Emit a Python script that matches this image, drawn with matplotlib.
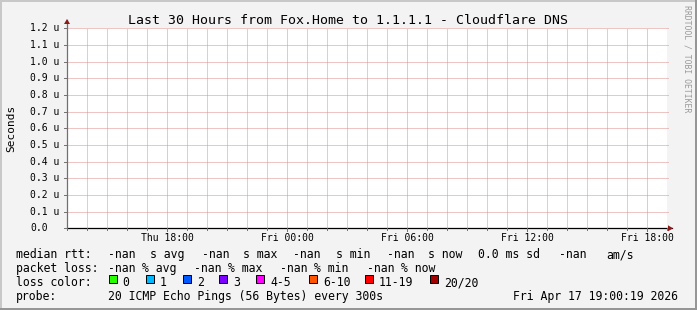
import matplotlib
matplotlib.use("Agg")
import matplotlib.pyplot as plt
from matplotlib.patches import Rectangle, Polygon
from matplotlib.lines import Line2D

plt.rcParams['font.family'] = ['DejaVu Sans Mono']

W, H = 697, 310

# chart texts and values
title = "Last 30 Hours from Fox.Home to 1.1.1.1 - Cloudflare DNS"
y_label = "Seconds"
hours_span = 30                      # Thu 13:00 -> Fri 19:00
x_tick_hours = [5, 11, 17, 23, 29]
x_tick_labels = ["Thu 18:00", "Fri 00:00", "Fri 06:00", "Fri 12:00", "Fri 18:00"]
y_ticks = [0.0, 0.1, 0.2, 0.3, 0.4, 0.5, 0.6, 0.7, 0.8, 0.9, 1.0, 1.1, 1.2]
y_tick_labels = ["0.0"] + ["%.1f u" % v for v in y_ticks[1:]]

rtt_values = ["-nan", "-nan", "-nan", "-nan"]
rtt_names = ["s avg", "s max", "s min", "s now"]
rtt_sd = "0.0 ms sd"
rtt_am = "-nan"
loss_values = ["-nan", "-nan", "-nan", "-nan"]
loss_names = ["% avg", "% max", "% min", "% now"]
loss_labels = ["0", "1", "2", "3", "4-5", "6-10", "11-19", "20/20"]
loss_colors = ["#26ff00", "#00b8ff", "#0059ff", "#7e00ff",
               "#ff00ff", "#ff5500", "#ff0000", "#a00000"]
probe_text = "20 ICMP Echo Pings (56 Bytes) every 300s"
stamp = "Fri Apr 17 19:00:19 2026"


def fx(x):
    return x / W


def fy(y):
    return 1 - y / H


fig = plt.figure(figsize=(W / 100, H / 100), dpi=100, facecolor="#f3f3f3")

# 3d-ish border
fig.add_artist(Rectangle((0, fy(2)), 1, 2 / H, transform=fig.transFigure, color="#c8c8c8", lw=0))
fig.add_artist(Rectangle((0, 0), 2 / W, 1, transform=fig.transFigure, color="#c8c8c8", lw=0))
fig.add_artist(Rectangle((0, 0), 1, 2 / H, transform=fig.transFigure, color="#969696", lw=0))
fig.add_artist(Rectangle((fx(W - 2), 0), 2 / W, 1, transform=fig.transFigure, color="#969696", lw=0))

x0, x1, ytop, ybot = 67, 667, 28.3, 228.3
ax = fig.add_axes([fx(x0), fy(ybot), (x1 - x0) / W, (ybot - ytop) / H])
ax.set_facecolor("white")
ax.set_xlim(0, hours_span)
ax.set_ylim(y_ticks[0], y_ticks[-1])
for s in ax.spines.values():
    s.set_visible(False)
ax.set_xticks([])
ax.set_yticks([])

# grid: hourly minor, 6-hourly major, every 0.1 u horizontal
dot = (0, (1, 1))
for h in range(1, hours_span + 1):
    major = h in x_tick_hours
    ax.axvline(h, color="#dc8c8c" if major else "#a8a8a8", lw=0.72, ls=dot, zorder=1)
for v in y_ticks[1:]:
    ax.plot([0, hours_span + 0.05], [v, v], color="#dc8c8c", lw=0.72, ls=dot,
            clip_on=False, zorder=1)

# axes lines
ax.plot([0, hours_span + 0.25], [0, 0], color="black", lw=0.9, clip_on=False, zorder=3)
ax.plot([0, 0], [0, y_ticks[-1] + 0.05], color="#707070", lw=0.9, clip_on=False, zorder=3)

# ticks on axes
for v in y_ticks:
    fig.add_artist(Line2D([fx(x0 - 3), fx(x0)], [fy(ybot - v / 1.2 * 200)] * 2,
                          transform=fig.transFigure, color="#707070", lw=0.7))
for h in range(0, hours_span + 1):
    xp = x0 + h * 20
    ln = 3 if h in x_tick_hours else 2
    fig.add_artist(Line2D([fx(xp), fx(xp)], [fy(ybot), fy(ybot + ln)],
                          transform=fig.transFigure, color="#707070", lw=0.7))

# arrows
fig.add_artist(Polygon([(fx(x0 - 3), fy(24)), (fx(x0 + 3), fy(24)), (fx(x0), fy(19))],
                       closed=True, transform=fig.transFigure, color="#8b1a1a", lw=0))
fig.add_artist(Polygon([(fx(668), fy(ybot - 3)), (fx(668), fy(ybot + 3)), (fx(673), fy(ybot))],
                       closed=True, transform=fig.transFigure, color="#8b1a1a", lw=0))

# tick labels
for v, lab in zip(y_ticks, y_tick_labels):
    fig.text(fx(30), fy(ybot - v / 1.2 * 200), lab, fontsize=7, ha="left", va="center")
for h, lab in zip(x_tick_hours, x_tick_labels):
    fig.text(fx(x0 + h * 20), fy(240.7), lab, fontsize=7, ha="center", va="baseline")

fig.text(0.5, fy(24), title, fontsize=9.5, ha="center", va="baseline")
fig.text(fx(11), fy(128.3), y_label, fontsize=8, rotation=90, ha="center", va="center")
fig.text(fx(687.5), fy(5), "RRDTOOL / TOBI OETIKER", fontsize=5.9, rotation=270,
         ha="center", va="top", color="#9a9a9a")

fs = 8.3
# row 1: median rtt
b1 = 258
fig.text(fx(16), fy(b1), "median rtt:", fontsize=fs, va="baseline")
for xv, xn, v, n in zip([107.7, 202, 293.3, 386.7], [150, 242.7, 336, 428.3], rtt_values, rtt_names):
    fig.text(fx(xv), fy(b1), v, fontsize=fs, va="baseline")
    fig.text(fx(xn), fy(b1), n, fontsize=fs, va="baseline")
fig.text(fx(478.3), fy(b1), rtt_sd, fontsize=fs, va="baseline")
fig.text(fx(559.3), fy(b1), rtt_am, fontsize=fs, va="baseline")
fig.text(fx(606.7), fy(b1), "am/s", fontsize=fs, va="baseline")

# row 2: packet loss
b2 = 272
fig.text(fx(16), fy(b2), "packet loss:", fontsize=fs, va="baseline")
for xv, v, n in zip([107.7, 194.3, 280, 366.7], loss_values, loss_names):
    fig.text(fx(xv), fy(b2), v, fontsize=fs, va="baseline")
    fig.text(fx(xv + 34), fy(b2), n, fontsize=fs, va="baseline")

# row 3: loss colors
b3 = 286
fig.text(fx(16), fy(b3), "loss color:", fontsize=fs, va="baseline")
for bx, lab, col in zip([108.7, 145.7, 182.7, 219.3, 256, 309, 365, 430], loss_labels, loss_colors):
    fig.add_artist(Rectangle((fx(bx), fy(283)), 8 / W, 8 / H, transform=fig.transFigure,
                             facecolor=col, edgecolor="black", lw=0.7))
    fig.text(fx(bx + 14), fy(b3), lab, fontsize=fs, va="baseline")

# row 4: probe
b4 = 300
fig.text(fx(16), fy(b4), "probe:", fontsize=fs, va="baseline")
fig.text(fx(107.7), fy(b4), probe_text, fontsize=fs, va="baseline")
fig.text(fx(513), fy(b4), stamp, fontsize=fs, va="baseline")

fig.savefig("out.png", dpi=100, facecolor=fig.get_facecolor())
